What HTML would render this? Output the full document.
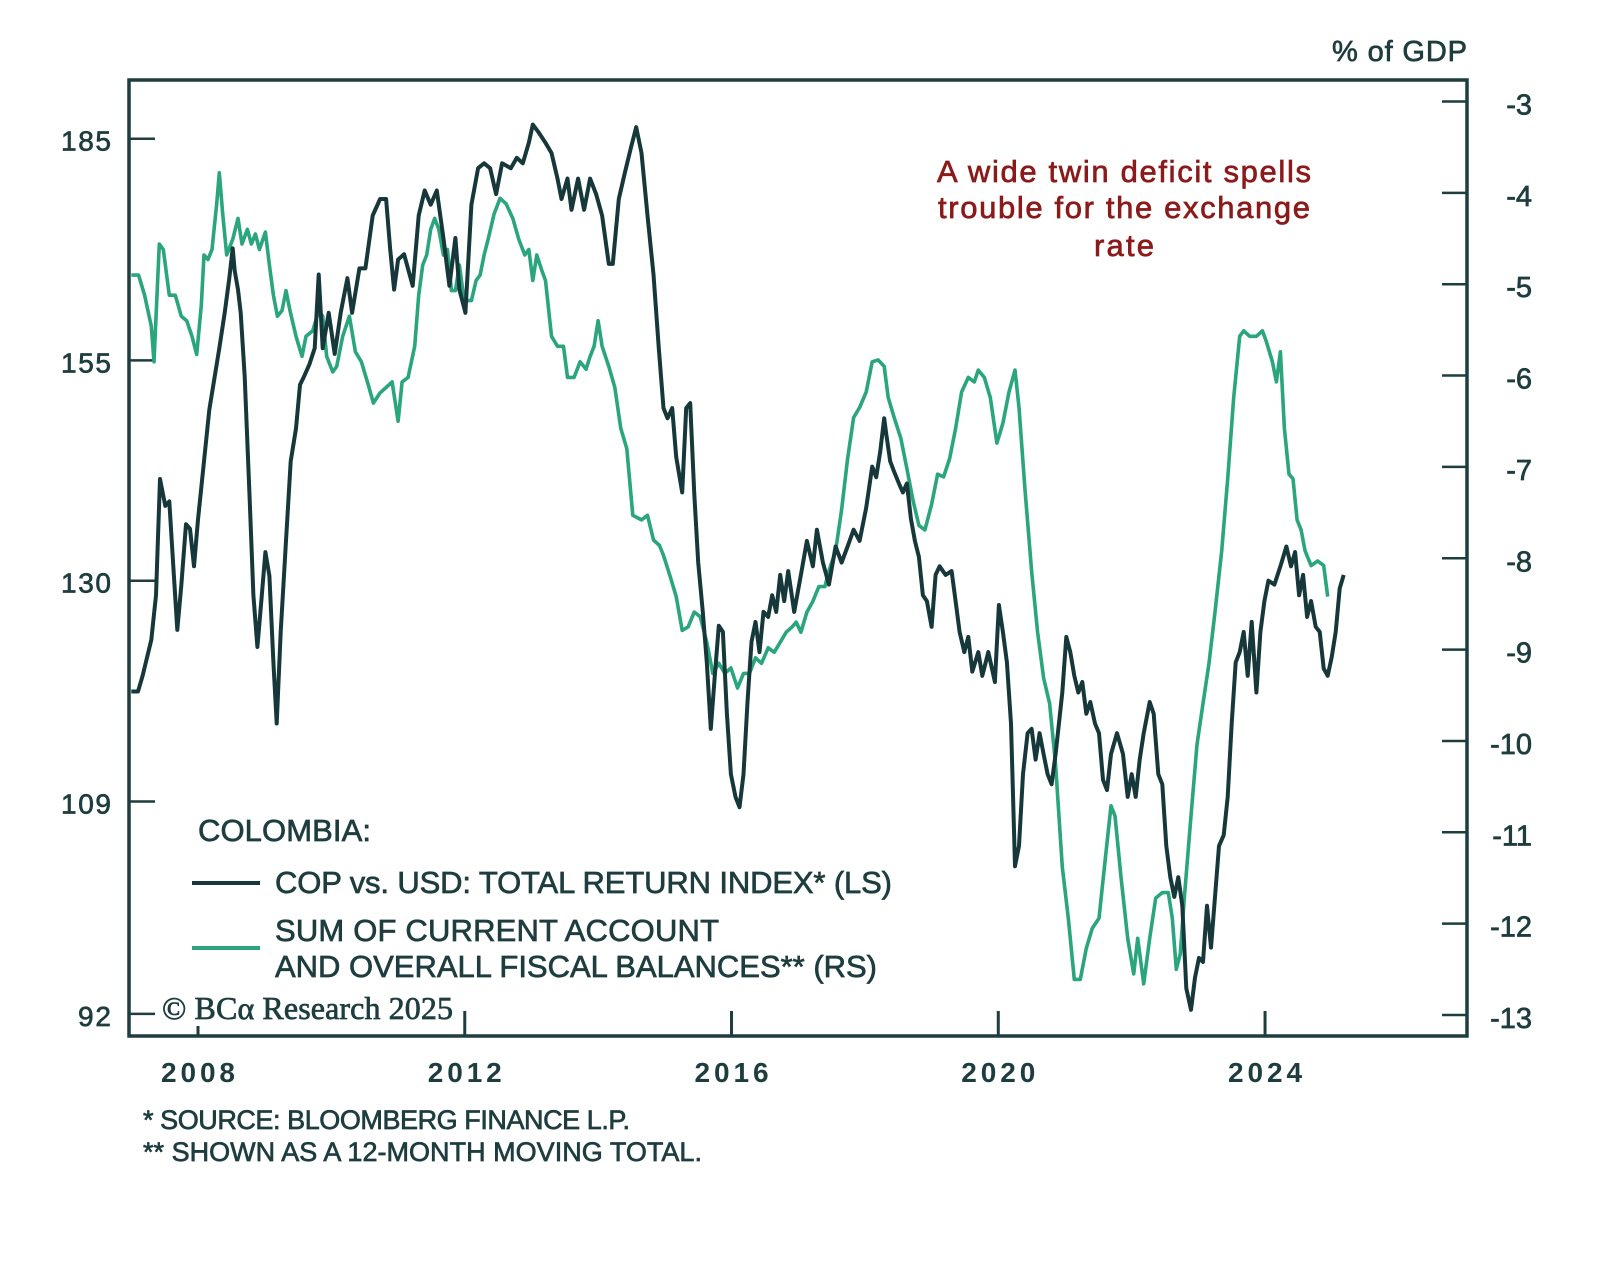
<!DOCTYPE html>
<html><head><meta charset="utf-8"><style>
html,body{margin:0;padding:0;background:#fff;}
svg{display:block;}
text{font-family:"Liberation Sans",sans-serif;stroke-width:0.7px;}
</style></head><body>
<svg id="chart" width="1600" height="1263" viewBox="0 0 1600 1263" xmlns="http://www.w3.org/2000/svg">
<rect width="1600" height="1263" fill="#fff"/>
<g id="grid"></g>
<g id="series"></g>
<rect x="129" y="80" width="1338" height="956" fill="none" stroke="#1e3d3f" stroke-width="3.5"/>
<text x="1467" y="61" text-anchor="end" font-size="29" fill="#1e3d3f" stroke="#1e3d3f" textLength="135">% of GDP</text>
<g fill="#8b1a1a" stroke="#8b1a1a" font-size="31" text-anchor="middle">
<text x="1124" y="182" textLength="374">A wide twin deficit spells</text>
<text x="1124" y="218" textLength="372">trouble for the exchange</text>
<text x="1124" y="256" textLength="60">rate</text>
</g>
<g fill="#1e3d3f" stroke="#1e3d3f" font-size="31">
<text x="198" y="841" textLength="173">COLOMBIA:</text>
<line x1="192" y1="883" x2="260" y2="883" stroke="#17383a" stroke-width="4"/>
<text x="275" y="893" textLength="617">COP vs. USD: TOTAL RETURN INDEX* (LS)</text>
<line x1="192" y1="948" x2="260" y2="948" stroke="#2aa57d" stroke-width="4"/>
<text x="275" y="941" textLength="444">SUM OF CURRENT ACCOUNT</text>
<text x="275" y="977" textLength="602">AND OVERALL FISCAL BALANCES** (RS)</text>
</g>
<text x="162" y="1019" font-size="32" fill="#1e3d3f" stroke="#1e3d3f" stroke-width="0.4" textLength="291" style="font-family:'Liberation Serif',serif">© BCα Research 2025</text>
<g fill="#1e3d3f" stroke="#1e3d3f" font-size="27">
<text x="143" y="1129" textLength="487">* SOURCE: BLOOMBERG FINANCE L.P.</text>
<text x="143" y="1161" textLength="559">** SHOWN AS A 12-MONTH MOVING TOTAL.</text>
</g>
</svg>
<script>
const copDates=[2007.00,2007.10,2007.17,2007.30,2007.37,2007.43,2007.51,2007.57,2007.63,2007.69,2007.75,2007.82,2007.88,2007.94,2008.00,2008.09,2008.17,2008.25,2008.32,2008.40,2008.47,2008.52,2008.55,2008.60,2008.64,2008.70,2008.77,2008.83,2008.89,2008.95,2009.01,2009.07,2009.13,2009.18,2009.24,2009.32,2009.39,2009.47,2009.53,2009.59,2009.67,2009.75,2009.81,2009.87,2009.96,2010.05,2010.14,2010.24,2010.31,2010.42,2010.51,2010.62,2010.73,2010.82,2010.88,2010.94,2011.00,2011.09,2011.22,2011.31,2011.40,2011.49,2011.58,2011.68,2011.77,2011.86,2011.92,2012.01,2012.10,2012.20,2012.29,2012.38,2012.47,2012.56,2012.69,2012.78,2012.87,2012.96,2013.02,2013.11,2013.21,2013.30,2013.39,2013.45,2013.54,2013.60,2013.70,2013.79,2013.88,2013.97,2014.06,2014.16,2014.22,2014.31,2014.40,2014.49,2014.57,2014.65,2014.74,2014.83,2014.91,2014.98,2015.04,2015.11,2015.17,2015.26,2015.32,2015.38,2015.44,2015.50,2015.57,2015.63,2015.69,2015.75,2015.81,2015.87,2015.93,2015.99,2016.06,2016.12,2016.18,2016.24,2016.30,2016.36,2016.42,2016.48,2016.55,2016.61,2016.67,2016.73,2016.79,2016.85,2016.94,2017.04,2017.13,2017.22,2017.28,2017.37,2017.46,2017.56,2017.65,2017.74,2017.83,2017.92,2018.02,2018.11,2018.17,2018.23,2018.29,2018.32,2018.38,2018.44,2018.51,2018.57,2018.63,2018.69,2018.75,2018.81,2018.87,2018.93,2019.00,2019.06,2019.12,2019.21,2019.30,2019.36,2019.42,2019.49,2019.55,2019.61,2019.70,2019.76,2019.85,2019.95,2020.01,2020.07,2020.13,2020.19,2020.25,2020.31,2020.37,2020.44,2020.50,2020.56,2020.62,2020.68,2020.74,2020.80,2020.86,2020.96,2021.02,2021.08,2021.14,2021.20,2021.26,2021.32,2021.38,2021.45,2021.51,2021.57,2021.63,2021.69,2021.78,2021.87,2021.94,2022.00,2022.06,2022.12,2022.18,2022.27,2022.33,2022.40,2022.46,2022.52,2022.58,2022.64,2022.70,2022.76,2022.82,2022.89,2022.95,2023.01,2023.07,2023.13,2023.19,2023.25,2023.31,2023.38,2023.44,2023.50,2023.56,2023.62,2023.68,2023.74,2023.80,2023.87,2023.93,2023.99,2024.05,2024.14,2024.23,2024.32,2024.39,2024.45,2024.51,2024.57,2024.63,2024.69,2024.76,2024.82,2024.88,2024.94,2025.00,2025.06,2025.12,2025.18];
const copValues=[119,119,120.5,124,128.5,141,138,138.5,131.5,125,129.5,136,135.5,131.5,136.5,143,149,153,156.5,161,165.5,169.5,166.5,164,161,153,139.5,128.5,123.3,128,133,130.5,121.8,116,124.8,134.2,143,146.8,152,153,154.5,156.5,166,156.5,161,155.8,161,165.5,161,166.8,166.8,174,176.3,176.3,169.5,164,168,168.7,164.5,174,177.5,175.5,177.5,170.9,164.5,170.9,164,161,175.5,180.7,181.4,180.7,177,181.4,180.7,182.2,181.4,184.4,187.1,185.9,184.4,182.9,179.2,176.3,179.2,174.8,179.2,174.8,179.2,177,174,167.4,167.4,176.3,180,183.6,186.7,182.9,174,166,156.5,149.2,148,149.2,143.5,139.5,149.2,149.8,139.5,131.9,126.8,121.8,115.5,120.5,125.4,124.8,116.9,111.4,109.4,108.5,111.4,118,123.8,125.8,122.8,126.8,126.3,128.5,126.8,130.6,127.9,131,126.8,130.6,134.2,131.5,135.4,131.9,129.6,133.6,131.9,133.6,135.4,134.2,137.8,142.4,141.2,144.1,148,146.2,143,141.8,140.5,139.5,140.5,136.6,134.2,132.5,128.5,127.9,125.3,130.6,131.5,130.6,131,127.9,124.8,122.8,124.3,120.9,122.8,120.5,122.8,119.9,127.5,124.8,121.8,116,103.5,105.2,111.4,115.1,115.5,112.7,115.1,113.2,111.4,110.5,113.2,118.9,124.3,122.8,120.5,118.9,119.9,116.9,118,116,115.1,110.9,110,113.2,115.1,113.2,109.4,111.4,109.4,112.7,115.1,118,116.9,111.4,110.5,105.2,102.6,101,102.6,100.3,93.9,92.3,94.7,96.2,95.9,100.3,97,101,105.2,106.1,109.4,116,121.8,122.8,124.8,120.5,125.8,118.9,124.8,127.9,130,129.6,131.5,133.6,131.5,133,128.5,130.6,126.3,127.9,125.3,124.8,121.2,120.5,122.3,124.8,129.2,130.6];
const balDates=[2007.00,2007.11,2007.20,2007.30,2007.34,2007.42,2007.48,2007.57,2007.66,2007.75,2007.83,2007.91,2007.98,2008.05,2008.09,2008.15,2008.21,2008.28,2008.32,2008.37,2008.43,2008.52,2008.60,2008.66,2008.74,2008.80,2008.86,2008.92,2009.01,2009.07,2009.13,2009.19,2009.26,2009.32,2009.38,2009.47,2009.56,2009.62,2009.72,2009.81,2009.87,2009.93,2010.02,2010.08,2010.17,2010.27,2010.36,2010.45,2010.54,2010.63,2010.73,2010.82,2010.91,2011.00,2011.06,2011.15,2011.25,2011.31,2011.37,2011.43,2011.49,2011.55,2011.61,2011.68,2011.74,2011.80,2011.86,2011.92,2011.98,2012.04,2012.10,2012.17,2012.23,2012.29,2012.35,2012.44,2012.53,2012.62,2012.72,2012.81,2012.90,2012.96,2013.02,2013.08,2013.15,2013.21,2013.30,2013.39,2013.48,2013.54,2013.64,2013.73,2013.82,2013.88,2013.94,2014.00,2014.06,2014.16,2014.25,2014.34,2014.43,2014.52,2014.65,2014.74,2014.83,2014.92,2014.98,2015.08,2015.17,2015.26,2015.35,2015.44,2015.53,2015.63,2015.72,2015.81,2015.90,2015.99,2016.09,2016.18,2016.27,2016.36,2016.45,2016.55,2016.64,2016.73,2016.82,2016.91,2016.97,2017.04,2017.13,2017.22,2017.31,2017.40,2017.46,2017.56,2017.65,2017.74,2017.83,2017.92,2018.02,2018.11,2018.20,2018.29,2018.35,2018.44,2018.54,2018.63,2018.72,2018.81,2018.90,2019.00,2019.09,2019.18,2019.27,2019.36,2019.45,2019.55,2019.64,2019.70,2019.79,2019.88,2019.98,2020.07,2020.16,2020.25,2020.31,2020.40,2020.50,2020.59,2020.68,2020.77,2020.86,2020.96,2021.05,2021.14,2021.23,2021.32,2021.41,2021.51,2021.60,2021.69,2021.75,2021.84,2021.94,2022.03,2022.09,2022.18,2022.27,2022.36,2022.46,2022.55,2022.61,2022.67,2022.73,2022.79,2022.89,2022.98,2023.07,2023.16,2023.25,2023.35,2023.44,2023.53,2023.62,2023.68,2023.77,2023.87,2023.96,2024.02,2024.11,2024.17,2024.23,2024.29,2024.36,2024.42,2024.48,2024.54,2024.60,2024.69,2024.79,2024.88,2024.94];
const balValues=[-4.9,-4.9,-5.12,-5.46,-5.85,-4.56,-4.62,-5.12,-5.12,-5.35,-5.4,-5.57,-5.77,-5.23,-4.68,-4.73,-4.62,-4.12,-3.78,-4.23,-4.68,-4.51,-4.28,-4.56,-4.4,-4.56,-4.45,-4.62,-4.43,-4.79,-5.12,-5.35,-5.29,-5.07,-5.29,-5.57,-5.79,-5.57,-5.51,-5.29,-5.35,-5.79,-5.96,-5.9,-5.57,-5.35,-5.74,-5.85,-6.07,-6.3,-6.19,-6.13,-6.07,-6.5,-6.07,-6.02,-5.68,-5.12,-4.79,-4.68,-4.4,-4.28,-4.4,-4.68,-4.62,-5.07,-5.07,-4.79,-5.12,-5.18,-5.18,-4.96,-4.9,-4.68,-4.51,-4.23,-4.06,-4.12,-4.28,-4.51,-4.68,-4.62,-4.96,-4.68,-4.84,-4.96,-5.57,-5.68,-5.68,-6.02,-6.02,-5.85,-5.93,-5.79,-5.68,-5.4,-5.68,-5.9,-6.13,-6.58,-6.8,-7.53,-7.58,-7.53,-7.8,-7.86,-7.97,-8.2,-8.42,-8.79,-8.75,-8.59,-8.64,-8.92,-9.26,-9.15,-9.26,-9.2,-9.42,-9.26,-9.26,-9.09,-9.15,-8.98,-9.03,-8.92,-8.81,-8.75,-8.7,-8.81,-8.59,-8.47,-8.31,-8.31,-8.14,-7.92,-7.47,-6.91,-6.46,-6.35,-6.18,-5.85,-5.83,-5.9,-6.24,-6.46,-6.69,-7.02,-7.36,-7.64,-7.69,-7.41,-7.08,-7.11,-6.91,-6.58,-6.18,-6.02,-6.07,-5.94,-6.02,-6.24,-6.74,-6.52,-6.18,-5.94,-6.35,-7.25,-8.14,-8.81,-9.31,-9.59,-10.26,-11.38,-11.94,-12.61,-12.61,-12.27,-12.05,-11.94,-11.32,-10.71,-10.82,-11.49,-12.16,-12.55,-12.16,-12.66,-12.16,-11.72,-11.66,-11.66,-11.94,-12.5,-12.33,-11.72,-10.82,-10.04,-9.59,-9.15,-8.59,-7.92,-7.13,-6.24,-5.57,-5.51,-5.57,-5.57,-5.51,-5.63,-5.85,-6.07,-5.74,-6.58,-7.08,-7.13,-7.58,-7.69,-7.92,-8.08,-8.03,-8.08,-8.42];
const leftTicks=[185,155,130,109,92];
const rightTicks=[-3,-4,-5,-6,-7,-8,-9,-10,-11,-12,-13];
const yearTicks=[2008,2012,2016,2020,2024];

const NS="http://www.w3.org/2000/svg";
function xS(yr){return 198+(yr-2008)*66.69;}
function yL(v){return 138.7+(Math.log(185)-Math.log(v))*1252.8;}
function yR(v){return 101.5+(-3-v)*91.35;}
function mk(tag,attrs,parent){const e=document.createElementNS(NS,tag);for(const k in attrs)e.setAttribute(k,attrs[k]);parent.appendChild(e);return e;}
const axes=document.getElementById('grid');
const ser=document.getElementById('series');
const C="#1e3d3f";
leftTicks.forEach(v=>{
  const y=yL(v);
  const t=mk('line',{x1:129,y1:y,x2:155,y2:y,stroke:C,'stroke-width':2.5},axes);
  
  
  const s=String(v);
  const l=mk('text',{x:111,y:y+12,'text-anchor':'end','font-size':28,fill:C,stroke:C,textLength:(s.length*16.7).toFixed(0)},axes);
  l.textContent=s;
  
  
});
rightTicks.forEach(v=>{
  const y=yR(v);
  const t=mk('line',{x1:1442,y1:y,x2:1467,y2:y,stroke:C,'stroke-width':2.5},axes);
  
  
  const l=mk('text',{x:1532,y:y+13,'text-anchor':'end','font-size':29,fill:C,stroke:C},axes);
  l.textContent=v;
  
  
});
yearTicks.forEach((yr,i)=>{
  const x=xS(yr);
  const t=mk('line',{x1:x,y1:(i===0?1026:1011),x2:x,y2:1036,stroke:C,'stroke-width':3},axes);
  
  
  const l=mk('text',{x:x,y:1082,'text-anchor':'middle','font-size':28,'font-weight':'bold',fill:C,textLength:74},axes);
  l.textContent=yr;
  
  
});
function path(dates,vals,fy){return dates.map((d,i)=>(i?'L':'M')+xS(d).toFixed(1)+' '+fy(vals[i]).toFixed(1)).join(' ');}
const g=mk('path',{d:path(balDates,balValues,yR),fill:'none',stroke:'#2aa57d','stroke-width':3.6,'stroke-linejoin':'round'},ser);


const d=mk('path',{d:path(copDates,copValues,yL),fill:'none',stroke:'#17383a','stroke-width':4,'stroke-linejoin':'round'},ser);


</script>
</body></html>
